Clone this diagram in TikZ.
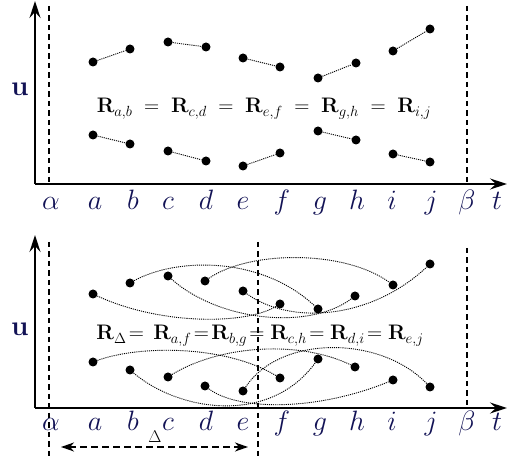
\RequirePackage{fix-cm}
\documentclass[tikz,border=0pt]{standalone}
\usepackage{amsmath}
\usetikzlibrary{arrows.meta}
\definecolor{navy}{RGB}{18,18,85}
\begin{document}
\begin{tikzpicture}[x=1pt,y=-1pt,
  dot/.style={circle,fill=black,inner sep=0pt,minimum size=9pt},
  conn/.style={line width=0.9pt,dash pattern=on 1.1pt off 1pt},
  axisline/.style={line width=1.8pt,-{Stealth[length=17pt,width=11pt,inset=6pt]}},
  vdash/.style={line width=1.9pt,dash pattern=on 5.5pt off 4pt},
  lab/.style={text=navy,font=\fontsize{28}{30}\selectfont,anchor=base,inner sep=0pt},
  ulab/.style={text=navy,font=\fontsize{28}{30}\selectfont,inner sep=0pt},
  eqn/.style={font=\fontsize{21}{24}\selectfont,anchor=base,inner sep=0pt}]
\useasboundingbox (0,0) rectangle (507,457);

% ---------- top panel ----------
\coordinate (o1) at (35,184);
\coordinate (y1) at (35,1);
\coordinate (x1) at (507,184);
\coordinate (al1t) at (49,6);
\coordinate (al1b) at (49,184);
\coordinate (be1t) at (467,6);
\coordinate (be1b) at (467,184);
\draw[vdash] (al1t) -- (al1b);
\draw[vdash] (be1t) -- (be1b);
\draw[axisline] (o1) -- (y1);
\draw[axisline] (o1) -- (x1);

\node[ulab] (u1) at (20,89) {$\mathbf{u}$};

\foreach \n/\x/\s in {alpha/51/\alpha,a/95/a,b/133/b,c/168/c,d/206/d,e/243/e,f/282/f,g/320/g,h/357/h,i/392/i,j/431/j,beta/467/\beta,t/497/t}
  \node[lab] (l1\n) at (\x,210) {$\s$};

\node[dot] (pa) at (93,62) {};
\node[dot] (pb) at (130,49) {};
\node[dot] (pc) at (168,42) {};
\node[dot] (pd) at (206,47) {};
\node[dot] (pe) at (243,58) {};
\node[dot] (pf) at (280,67) {};
\node[dot] (pg) at (318,78) {};
\node[dot] (ph) at (356,63) {};
\node[dot] (pi) at (393,51) {};
\node[dot] (pj) at (430,29) {};
\node[dot] (qa) at (93,135) {};
\node[dot] (qb) at (130,144) {};
\node[dot] (qc) at (168,151) {};
\node[dot] (qd) at (206,161) {};
\node[dot] (qe) at (243,166) {};
\node[dot] (qf) at (280,153) {};
\node[dot] (qg) at (318,131) {};
\node[dot] (qh) at (356,140) {};
\node[dot] (qi) at (393,154) {};
\node[dot] (qj) at (430,162) {};
\foreach \u/\v in {a/b,c/d,e/f,g/h,i/j}{
  \draw[conn] (p\u) -- (p\v);
  \draw[conn] (q\u) -- (q\v);
}

\node[eqn] (eq1) at (264,113) {$\mathbf{R}_{a,b}\;=\;\mathbf{R}_{c,d}\;=\;\mathbf{R}_{e,f}\;=\;\mathbf{R}_{g,h}\;=\;\mathbf{R}_{i,j}$};

% ---------- bottom panel ----------
\coordinate (o2) at (35,408);
\coordinate (y2) at (35,235);
\coordinate (x2) at (507,408);
\coordinate (al2t) at (49,242);
\coordinate (al2b) at (49,457);
\coordinate (mdt) at (258,242);
\coordinate (mdb) at (258,457);
\coordinate (be2t) at (467,248);
\coordinate (be2b) at (467,408);
\draw[vdash] (al2t) -- (al2b);
\draw[vdash] (mdt) -- (mdb);
\draw[vdash] (be2t) -- (be2b);
\draw[axisline] (o2) -- (y2);
\draw[axisline] (o2) -- (x2);

\node[ulab] (u2) at (20,329) {$\mathbf{u}$};

\foreach \n/\x/\s in {alpha/51/\alpha,a/95/a,b/133/b,c/168/c,d/206/d,e/243/e,f/282/f,g/320/g,h/357/h,i/392/i,j/431/j,beta/467/\beta,t/497/t}
  \node[lab] (l2\n) at (\x,431) {$\s$};

\node[dot] (ra) at (93,294) {};
\node[dot] (rb) at (130,283) {};
\node[dot] (rc) at (168,276) {};
\node[dot] (rd) at (205,281) {};
\node[dot] (re) at (243,291) {};
\node[dot] (rf) at (280,304) {};
\node[dot] (rg) at (318,309) {};
\node[dot] (rh) at (355,296) {};
\node[dot] (ri) at (393,285) {};
\node[dot] (rj) at (430,264) {};
\node[dot] (sa) at (93,362) {};
\node[dot] (sb) at (130,370) {};
\node[dot] (sc) at (168,377) {};
\node[dot] (sd) at (205,386) {};
\node[dot] (se) at (243,391) {};
\node[dot] (sf) at (280,378) {};
\node[dot] (sg) at (318,359) {};
\node[dot] (sh) at (355,367) {};
\node[dot] (si) at (393,380) {};
\node[dot] (sj) at (430,387) {};

\draw[conn] (ra) .. controls (160,325) and (245,325) .. (rf);
\draw[conn] (rb) .. controls (175,258) and (260,255) .. (rg);
\draw[conn] (rc) .. controls (220,322) and (310,330) .. (rh);
\draw[conn] (rd) .. controls (250,250) and (345,250) .. (ri);
\draw[conn] (re) .. controls (290,325) and (370,320) .. (rj);

\draw[conn] (sa) .. controls (140,345) and (225,345) .. (sf);
\draw[conn] (sb) .. controls (180,412) and (270,425) .. (sg);
\draw[conn] (sc) .. controls (220,345) and (300,340) .. (sh);
\draw[conn] (sd) .. controls (240,412) and (320,410) .. (si);
\draw[conn] (se) .. controls (280,335) and (380,335) .. (sj);

\node[eqn] (eq2) at (260,340) {$\mathbf{R}_\Delta\!=\,\mathbf{R}_{a,f}\!=\!\mathbf{R}_{b,g}\!=\mathbf{R}_{c,h}\!=\mathbf{R}_{d,i}\!=\mathbf{R}_{e,j}$};

\coordinate (dl) at (61,447);
\coordinate (dr) at (248,447);
\draw[line width=1.6pt,dash pattern=on 7pt off 4pt,{Stealth[length=13pt,width=9pt,inset=4pt]}-{Stealth[length=13pt,width=9pt,inset=4pt]}] (dl) -- (dr);
\node[font=\fontsize{17}{18}\selectfont,anchor=base,inner sep=0pt] (dlab) at (155,443) {$\Delta$};
\end{tikzpicture}
\end{document}
